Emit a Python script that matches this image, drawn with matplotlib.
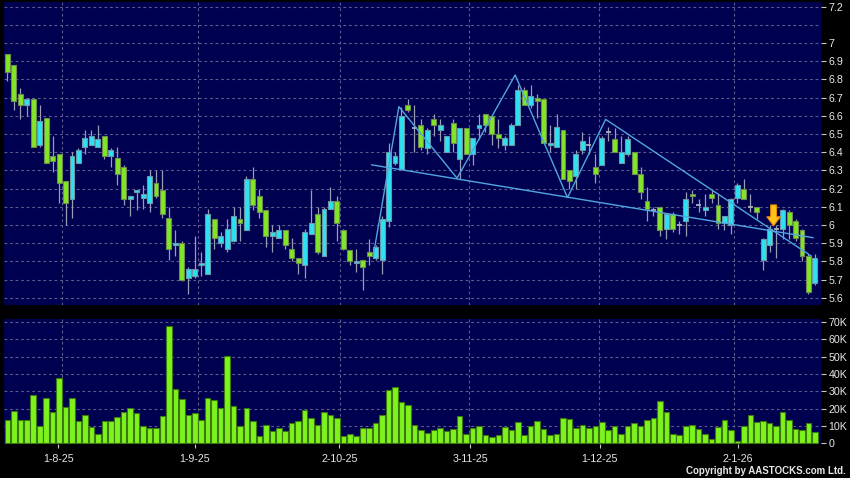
import numpy as np
import matplotlib.pyplot as plt
from matplotlib.patches import FancyArrow

# daily candles, Jul 21 2025 .. Jan 20 2026 (126 sessions)
opens = [6.94, 6.88, 6.72, 6.66, 6.69, 6.44, 6.59, 6.38, 6.39, 6.24,
         6.14, 6.34, 6.43, 6.44, 6.43, 6.49, 6.38, 6.37, 6.32, 6.14,
         6.18, 6.15, 6.12, 6.23, 6.19, 6.04, 5.89, 5.90, 5.71, 5.72,
         5.78, 5.73, 6.03, 5.90, 5.87, 5.91, 6.03, 5.97, 6.25, 6.16,
         6.08, 5.94, 5.93, 5.97, 5.87, 5.82, 5.78, 5.95, 6.06, 5.83,
         6.09, 6.13, 5.97, 5.86, 5.79, 5.81, 5.85, 5.82, 5.81, 6.02,
         6.34, 6.31, 6.66, 6.53, 6.55, 6.42, 6.58, 6.52, 6.40, 6.56,
         6.36, 6.53, 6.39, 6.53, 6.61, 6.60, 6.50, 6.44, 6.44, 6.55,
         6.74, 6.66, 6.70, 6.69, 6.44, 6.43, 6.52, 6.30, 6.27, 6.41,
         6.44, 6.32, 6.33, 6.51, 6.47, 6.34, 6.39, 6.40, 6.28, 6.13,
         6.08, 6.10, 5.98, 6.06, 6.00, 6.02, 6.17, 6.11, 6.08, 6.17,
         6.11, 6.01, 6.00, 6.15, 6.20, 6.10, 6.10, 5.81, 5.89, 5.975,
         5.98, 6.07, 6.02, 5.97, 5.83, 5.68]
highs = [6.94, 6.88, 6.75, 6.70, 6.70, 6.66, 6.59, 6.49, 6.39, 6.24,
         6.40, 6.42, 6.52, 6.52, 6.55, 6.49, 6.42, 6.43, 6.33, 6.16,
         6.19, 6.22, 6.30, 6.30, 6.30, 6.10, 5.97, 5.91, 5.77, 5.94,
         5.85, 6.09, 6.03, 5.96, 6.03, 6.10, 6.10, 6.27, 6.32, 6.20,
         6.08, 6.00, 6.00, 5.97, 5.93, 5.82, 5.98, 6.19, 6.10, 6.10,
         6.21, 6.16, 5.98, 5.86, 5.87, 5.81, 5.92, 5.89, 6.05, 6.45,
         6.40, 6.65, 6.69, 6.66, 6.58, 6.53, 6.61, 6.58, 6.49, 6.58,
         6.53, 6.53, 6.48, 6.61, 6.61, 6.60, 6.58, 6.49, 6.56, 6.77,
         6.76, 6.77, 6.72, 6.69, 6.55, 6.61, 6.52, 6.30, 6.41, 6.51,
         6.49, 6.39, 6.49, 6.54, 6.53, 6.49, 6.49, 6.40, 6.32, 6.21,
         6.10, 6.10, 6.06, 6.07, 6.02, 6.18, 6.19, 6.14, 6.17, 6.19,
         6.17, 6.05, 6.15, 6.23, 6.25, 6.17, 6.10, 5.93, 6.00, 6.00,
         6.09, 6.08, 6.03, 5.98, 5.84, 5.84]
lows = [6.79, 6.63, 6.58, 6.60, 6.43, 6.43, 6.34, 6.29, 6.12, 6.00,
        6.04, 6.34, 6.39, 6.44, 6.43, 6.36, 6.32, 6.22, 6.11, 6.05,
        6.08, 6.09, 6.07, 6.15, 6.04, 5.81, 5.83, 5.69, 5.62, 5.71,
        5.72, 5.73, 5.87, 5.88, 5.85, 5.91, 5.91, 5.97, 6.08, 6.04,
        5.88, 5.85, 5.93, 5.87, 5.80, 5.73, 5.71, 5.95, 5.84, 5.83,
        6.09, 5.91, 5.86, 5.78, 5.74, 5.64, 5.78, 5.81, 5.73, 5.99,
        6.33, 6.31, 6.62, 6.40, 6.41, 6.39, 6.49, 6.46, 6.40, 6.40,
        6.25, 6.39, 6.33, 6.47, 6.51, 6.44, 6.42, 6.41, 6.44, 6.55,
        6.66, 6.64, 6.59, 6.45, 6.40, 6.43, 6.25, 6.20, 6.20, 6.39,
        6.39, 6.23, 6.33, 6.46, 6.40, 6.34, 6.38, 6.28, 6.14, 6.02,
        6.05, 5.94, 5.92, 5.96, 5.95, 5.94, 6.12, 6.07, 6.05, 6.12,
        5.98, 5.97, 5.95, 6.12, 6.14, 6.07, 6.03, 5.75, 5.85, 5.82,
        5.92, 5.92, 5.91, 5.80, 5.62, 5.67]
closes = [6.84, 6.68, 6.66, 6.69, 6.43, 6.57, 6.34, 6.35, 6.23, 6.12,
          6.38, 6.41, 6.48, 6.49, 6.47, 6.38, 6.41, 6.28, 6.14, 6.16,
          6.19, 6.17, 6.27, 6.16, 6.06, 5.87, 5.90, 5.70, 5.76, 5.76,
          5.79, 6.06, 5.93, 5.94, 5.98, 6.05, 6.01, 6.25, 6.11, 6.07,
          5.94, 5.96, 5.97, 5.89, 5.82, 5.79, 5.96, 6.01, 5.85, 6.09,
          6.13, 6.01, 5.87, 5.80, 5.80, 5.77, 5.83, 5.88, 6.03, 6.40,
          6.38, 6.60, 6.63, 6.53, 6.43, 6.52, 6.55, 6.55, 6.49, 6.45,
          6.53, 6.39, 6.48, 6.55, 6.55, 6.50, 6.48, 6.48, 6.55, 6.74,
          6.66, 6.71, 6.68, 6.45, 6.45, 6.54, 6.25, 6.24, 6.39, 6.46,
          6.44, 6.28, 6.48, 6.51, 6.40, 6.40, 6.47, 6.28, 6.18, 6.09,
          6.08, 5.97, 6.06, 5.98, 6.00, 6.14, 6.16, 6.11, 6.10, 6.15,
          6.01, 6.05, 6.14, 6.22, 6.14, 6.10, 6.07, 5.92, 5.98, 5.975,
          6.08, 6.00, 5.93, 5.83, 5.63, 5.82]
volumes_k = [13.4, 18.9, 13.4, 13.4, 28.1, 9.9, 26.1, 17.9, 37.6, 21.2,
             26.1, 12.8, 16.2, 9.5, 5.5, 13.0, 12.8, 15.3, 18.3, 20.4,
             17.7, 10.3, 9.0, 9.0, 15.6, 67.9, 31.5, 25.4, 16.6, 17.7,
             13.7, 26.1, 25.2, 20.4, 50.4, 21.8, 10.3, 20.4, 12.8, 4.2,
             10.7, 7.4, 9.2, 7.3, 11.8, 13.2, 19.5, 14.7, 10.9, 18.3,
             16.4, 14.7, 4.2, 5.2, 4.4, 9.2, 9.2, 11.6, 16.6, 30.9,
             32.6, 24.0, 22.1, 10.9, 8.0, 6.1, 7.6, 9.0, 7.3, 8.4,
             15.6, 5.2, 9.2, 9.9, 4.6, 4.0, 4.8, 9.7, 7.6, 12.2,
             4.8, 10.3, 12.8, 8.4, 4.6, 5.5, 14.5, 14.1, 9.0, 10.9,
             9.2, 10.3, 12.2, 8.0, 9.9, 5.2, 10.3, 11.8, 9.9, 13.4,
             14.5, 24.6, 18.3, 5.5, 4.6, 9.9, 10.7, 8.4, 5.7, 2.7,
             9.4, 13.4, 8.0, 1.7, 10.3, 16.2, 12.4, 13.0, 11.6, 9.9,
             18.1, 13.7, 8.4, 7.6, 12.0, 6.5]

# month starts (session index) and labels
month_idx = [9, 30, 52, 72, 92, 113]
month_labels = ["1-8-25", "1-9-25", "2-10-25", "3-11-25", "1-12-25", "2-1-26"]

# drawn pattern lines (session index, price)
neck_idx = [56.4, 124.7]
neck_px = [6.33, 5.93]
zig_idx = [56.7, 60.6, 69.6, 78.6, 86.7, 92.6, 124.4]
zig_px = [5.845, 6.65, 6.257, 6.824, 6.15, 6.58, 5.83]

# signal arrow
signal_idx = 118.6
signal_px = 5.995

price_ticks = [5.6, 5.7, 5.8, 5.9, 6.0, 6.1, 6.2, 6.3, 6.4, 6.5, 6.6, 6.7, 6.8, 6.9, 7.0, 7.2]
vol_ticks_k = [0, 10, 20, 30, 40, 50, 60, 70]

BG = "#000050"
GRID = "#5c5c8c"
TXT = "#e6e6e6"
plt.rcParams["font.family"] = ["Liberation Sans", "DejaVu Sans"]

o = np.array(opens); h = np.array(highs); l = np.array(lows); c = np.array(closes)
x = np.arange(len(o))

fig = plt.figure(figsize=(8.5, 4.78), dpi=100, facecolor="black")
ax = fig.add_axes([4/850, 1-305/478, 817/850, 303/478], facecolor=BG)
axv = fig.add_axes([4/850, 1-444/478, 817/850, 125/478], facecolor=BG)

for a in (ax, axv):
    a.set_xlim(-0.53, 125.94)
    for s in a.spines.values():
        s.set_visible(False)
    for g in month_idx:
        a.axvline(g - 0.5, color=GRID, lw=0.8, ls=(0, (2.5, 2.5)), zorder=0)
    a.yaxis.tick_right()
    a.tick_params(axis="y", colors="#c8c8c8", labelcolor=TXT, labelsize=7.7,
                  length=3.5, width=0.8, pad=2)

# price panel
ax.set_ylim(5.56, 7.225)
for lev in np.arange(5.6, 7.25, 0.1):
    ax.axhline(lev, color=GRID, lw=0.8, ls=(0, (2.5, 2.5)), zorder=0)
ax.set_yticks(price_ticks, ["{:g}".format(t) for t in price_ticks])
ax.set_xticks([])

ax.vlines(x, l, h, color="#9a9cb4", lw=0.9, zorder=2)
up = c > o + 0.004
dn = c < o - 0.004
dj = ~(up | dn)
ax.bar(x[up], (c - o)[up], bottom=o[up], width=0.76, color="#2ce2f2",
       edgecolor="#6a98a8", lw=0.8, zorder=3)
ax.bar(x[dn], (o - c)[dn], bottom=c[dn], width=0.76, color="#82e626",
       edgecolor="#6c8c50", lw=0.8, zorder=3)
ax.hlines(c[dj], x[dj] - 0.38, x[dj] + 0.38, color="#a8b0c0", lw=1.3, zorder=3)

ax.plot(neck_idx, neck_px, color="#4fa6e0", lw=1.0, zorder=4)
ax.plot(zig_idx, zig_px, color="#4fa6e0", lw=1.0, zorder=4)

ax.add_patch(FancyArrow(signal_idx, signal_px + 0.115, 0, -0.115, width=0.9,
                        head_width=2.1, head_length=0.05, length_includes_head=True,
                        facecolor="#ffc21e", edgecolor="#e58a00", lw=0.8, zorder=5))

# volume panel
axv.set_ylim(-0.3, 71.7)
for lev in vol_ticks_k[1:]:
    axv.axhline(lev, color=GRID, lw=0.8, ls=(0, (2.5, 2.5)), zorder=0)
axv.set_yticks(vol_ticks_k, ["0" if v == 0 else f"{v}K" for v in vol_ticks_k])
axv.bar(x, volumes_k, width=0.86, color="#7ef21c", edgecolor="#3c7812", lw=0.8, zorder=3)

label_pos = [7.9, 29.0, 51.4, 71.6, 91.7, 113.1]
axv.set_xticks(label_pos, month_labels)
axv.tick_params(axis="x", colors="#c8c8c8", labelcolor=TXT, labelsize=7.7,
                length=3, width=0.8, pad=4.5)

fig.text(0.995, 0.0146, "Copyright by AASTOCKS.com Ltd.", color=TXT,
         fontsize=7, fontweight="bold", ha="right", va="center")

plt.savefig("out.png", dpi=100, facecolor="black")
